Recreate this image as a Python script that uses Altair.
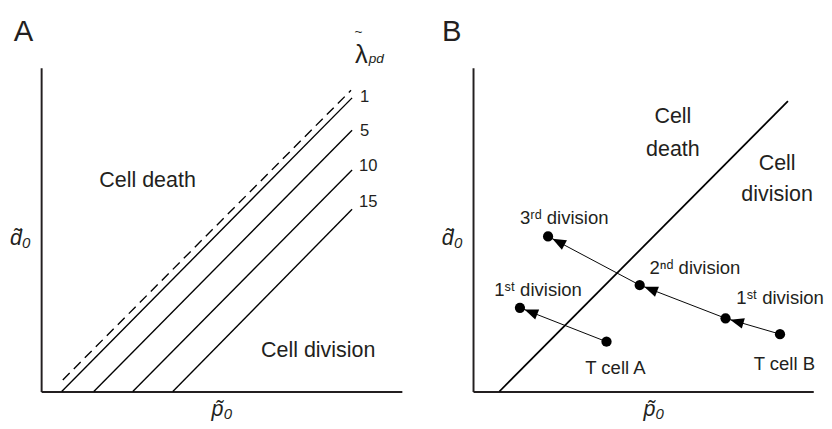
import math
import altair as alt
import pandas as pd

FONT = "Liberation Sans"
INK = "#231f20"
PX = 37.0                    # pixels per data unit, equal on both axes
WA, HA = 370, 332            # panel A plot area
WB, HB = 349, 332            # panel B plot area

# ---------------- Panel A data ----------------
a_lambda = ["1", "5", "10", "15"]
a_line_x0 = [0.57, 1.46, 2.54, 3.65]
a_line_y0 = [0.0, 0.0, 0.0, 0.0]
a_line_x1 = [8.62, 8.62, 8.62, 8.62]
a_line_y1 = [8.14, 7.24, 6.14, 5.05]
a_dash_x0, a_dash_y0, a_dash_x1, a_dash_y1 = [0.60], [0.32], [8.59], [8.35]
a_lab_x = [8.84, 8.84, 8.81, 8.81]
a_lab_y = [8.16, 7.22, 6.24, 5.24]
a_region_text = ["Cell death", "Cell division"]
a_region_x = [2.95, 7.68]
a_region_y = [5.86, 1.14]

# ---------------- Panel B data ----------------
b_diag_x0, b_diag_y0, b_diag_x1, b_diag_y1 = [0.73], [0.0], [8.73], [8.05]
b_pt_name = ["T cell A", "A 1st", "T cell B", "B 1st", "B 2nd", "B 3rd"]
b_pt_x = [3.70, 1.30, 8.51, 7.00, 4.62, 2.08]
b_pt_y = [1.38, 2.32, 1.59, 2.03, 2.95, 4.30]
b_seg_from = [0, 2, 3, 4]
b_seg_to = [1, 3, 4, 5]
b_div_text = ["3ʳᵈ division", "2ⁿᵈ division", "1ˢᵗ division", "1ˢᵗ division"]
b_div_x = [1.30, 4.89, 0.59, 7.30]
b_div_y = [4.81, 3.43, 2.81, 2.59]
b_cell_text = ["T cell A", "T cell B"]
b_cell_x = [3.11, 7.78]
b_cell_y = [0.65, 0.76]
b_region_text = ["Cell", "death", "Cell", "division"]
b_region_x = [5.54, 5.54, 8.43, 8.43]
b_region_y = [7.62, 6.73, 6.32, 5.46]

# panel letters / lambda label
panel_letter = ["A", "B"]
letter_x = [-0.76, -0.86]
letter_y = [9.73, 9.73]
lam_x, lam_y = [8.70], [9.11]
tilde_x, tilde_y = [8.80], [9.97]
pd_x, pd_y = [9.08], [9.11]


def make_enc(w, h):
    def X(field="x"):
        return alt.X(f"{field}:Q", scale=alt.Scale(domain=[0, w / PX], nice=False, zero=False),
                     title="p̃₀",
                     axis=alt.Axis(titleX=185, titleY=25, titleBaseline="alphabetic",
                                   titleAlign="center"))

    def Y(field="y"):
        return alt.Y(f"{field}:Q", scale=alt.Scale(domain=[0, h / PX], nice=False, zero=False),
                     title="d̃₀",
                     axis=alt.Axis(titleAngle=0, titleAlign="right", titleBaseline="alphabetic",
                                   titleX=-11, titleY=181))
    return X, Y


def rules(df, X, Y, **kw):
    return alt.Chart(df).mark_rule(color="black", **kw).encode(
        x=X(), y=Y(), x2="x2:Q", y2="y2:Q")


def text(df, X, Y, **kw):
    base = dict(font=FONT, color=INK, baseline="middle")
    base.update(kw)
    return alt.Chart(df).mark_text(**base).encode(x=X(), y=Y(), text="t:N")


# ---------------- Panel A ----------------
XA, YA = make_enc(WA, HA)
dfA_lines = pd.DataFrame({"x": a_line_x0, "y": a_line_y0, "x2": a_line_x1, "y2": a_line_y1})
dfA_dash = pd.DataFrame({"x": a_dash_x0, "y": a_dash_y0, "x2": a_dash_x1, "y2": a_dash_y1})
dfA_lab = pd.DataFrame({"x": a_lab_x, "y": a_lab_y, "t": a_lambda})
dfA_reg = pd.DataFrame({"x": a_region_x, "y": a_region_y, "t": a_region_text})
dfA_let = pd.DataFrame({"x": [letter_x[0]], "y": [letter_y[0]], "t": [panel_letter[0]]})
dfA_lam = pd.DataFrame({"x": lam_x, "y": lam_y, "t": ["λ"]})
dfA_tilde = pd.DataFrame({"x": tilde_x, "y": tilde_y, "t": ["~"]})
dfA_pd = pd.DataFrame({"x": pd_x, "y": pd_y, "t": ["pd"]})

panelA = alt.layer(
    rules(dfA_lines, XA, YA, strokeWidth=1.4),
    rules(dfA_dash, XA, YA, strokeWidth=1.4, strokeDash=[10, 6]),
    text(dfA_lab, XA, YA, fontSize=17, align="left"),
    text(dfA_reg, XA, YA, fontSize=22, align="center"),
    text(dfA_let, XA, YA, fontSize=30, align="left", baseline="alphabetic"),
    text(dfA_lam, XA, YA, fontSize=26, align="left", baseline="alphabetic"),
    text(dfA_tilde, XA, YA, fontSize=14, align="center"),
    text(dfA_pd, XA, YA, fontSize=14, align="left", baseline="alphabetic", fontStyle="italic"),
).properties(width=WA, height=HA)

# ---------------- Panel B ----------------
XB, YB = make_enc(WB, HB)
dfB_diag = pd.DataFrame({"x": b_diag_x0, "y": b_diag_y0, "x2": b_diag_x1, "y2": b_diag_y1})
seg = []
for i, j in zip(b_seg_from, b_seg_to):
    dx = (b_pt_x[j] - b_pt_x[i]) * PX
    dy = (b_pt_y[j] - b_pt_y[i]) * PX
    ang = math.degrees(math.atan2(dx, dy)) % 360
    seg.append({"x": b_pt_x[i], "y": b_pt_y[i], "x2": b_pt_x[j], "y2": b_pt_y[j],
                "hx": b_pt_x[j], "hy": b_pt_y[j], "ang": ang})
dfB_seg = pd.DataFrame(seg)
dfB_pts = pd.DataFrame({"x": b_pt_x, "y": b_pt_y, "name": b_pt_name})
dfB_div = pd.DataFrame({"x": b_div_x, "y": b_div_y, "t": b_div_text})
dfB_cell = pd.DataFrame({"x": b_cell_x, "y": b_cell_y, "t": b_cell_text})
dfB_reg = pd.DataFrame({"x": b_region_x, "y": b_region_y, "t": b_region_text})
dfB_let = pd.DataFrame({"x": [letter_x[1]], "y": [letter_y[1]], "t": [panel_letter[1]]})

heads = alt.Chart(dfB_seg).mark_point(
    shape="M0,1L1.1,3.8L-1.1,3.8Z", filled=True, size=100, color="black", opacity=1
).encode(
    x=XB("hx"),
    y=YB("hy"),
    angle=alt.Angle("ang:Q", scale=None),
)

panelB = alt.layer(
    rules(dfB_diag, XB, YB, strokeWidth=1.8),
    rules(dfB_seg, XB, YB, strokeWidth=1.0),
    alt.Chart(dfB_pts).mark_point(shape="circle", filled=True, size=110, color="black",
                                  opacity=1).encode(x=XB(), y=YB()),
    heads,
    text(dfB_div, XB, YB, fontSize=19, align="left"),
    text(dfB_cell, XB, YB, fontSize=19, align="left"),
    text(dfB_reg, XB, YB, fontSize=22, align="center"),
    text(dfB_let, XB, YB, fontSize=30, align="left", baseline="alphabetic"),
).properties(width=WB, height=HB)

chart = alt.hconcat(panelA, panelB, spacing=40).properties(
    padding={"left": 1, "top": 3, "right": 0, "bottom": 0}
).configure_view(stroke=None).configure_axis(
    domainColor=INK, domainWidth=2, ticks=False, labels=False, grid=False,
    titleFont=FONT, titleFontSize=22, titleFontStyle="italic", titleFontWeight="normal",
    titleColor=INK,
)

chart.save("out.html", embed_options={"renderer": "svg", "actions": False})
